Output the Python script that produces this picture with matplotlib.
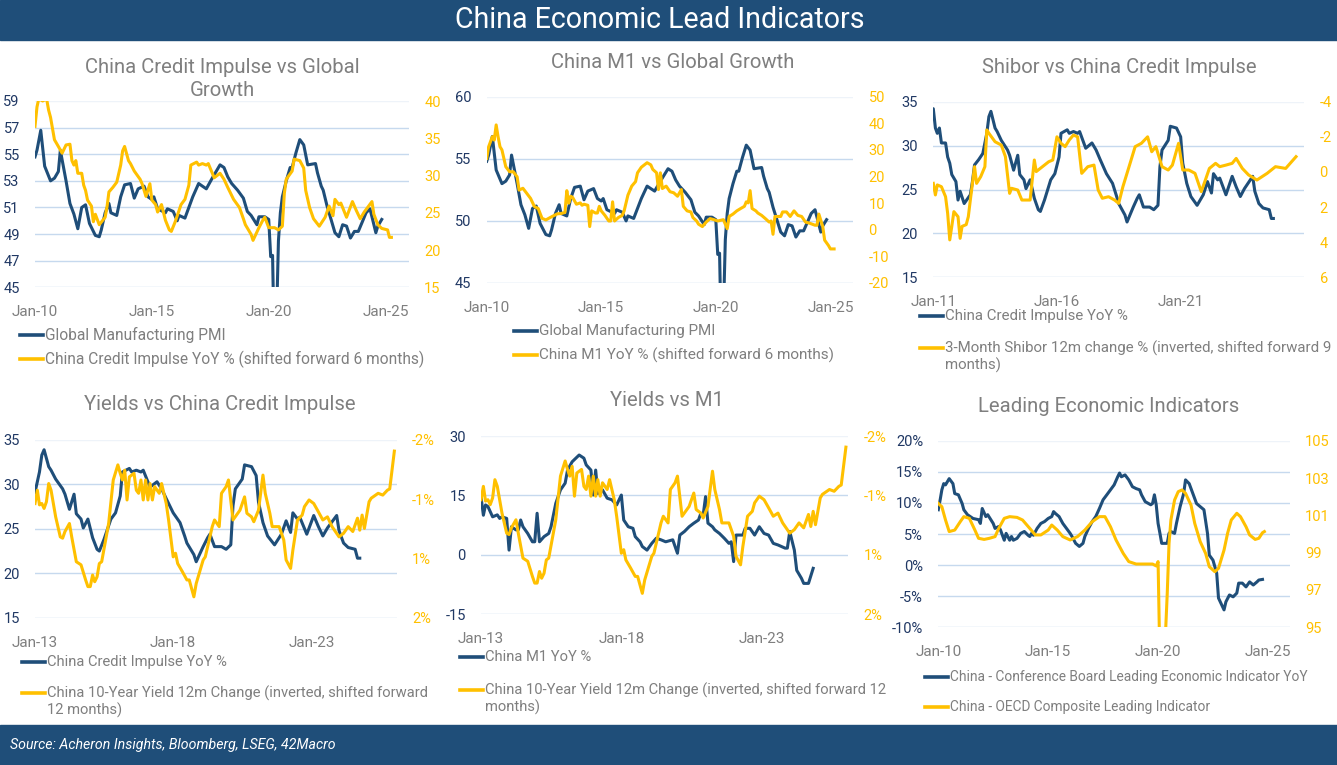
import matplotlib
matplotlib.use("Agg")
import matplotlib.pyplot as plt
from matplotlib.lines import Line2D
from matplotlib.patches import Rectangle
import pandas as pd

plt.rcParams['font.family'] = ['Roboto', 'DejaVu Sans']
plt.rcParams['axes.unicode_minus'] = False

W, H = 1337, 765
NAVY = "#1f4e79"
GOLD = "#ffc000"
GRID = "#c6d9ee"
GREY = "#7f7f7f"
TICKNAVY = "#203864"

# ---- data ----
# Global Manufacturing PMI
pmi_dates = ["2010-01", "2010-02", "2010-04", "2010-06", "2010-09", "2010-11", "2011-01", "2011-02",
             "2011-05", "2011-07", "2011-09", "2011-11", "2012-01", "2012-03", "2012-05", "2012-08",
             "2012-10", "2012-11", "2013-01", "2013-03", "2013-04", "2013-07", "2013-09", "2013-11",
             "2014-02", "2014-04", "2014-06", "2014-09", "2014-11", "2015-01", "2015-02", "2015-04",
             "2015-08", "2015-09", "2015-12", "2016-02", "2016-03", "2016-06", "2016-08", "2016-10",
             "2017-01", "2017-03", "2017-05", "2017-08", "2017-12", "2018-02", "2018-04", "2018-06",
             "2018-09", "2018-12", "2019-02", "2019-04", "2019-07", "2019-08", "2019-11", "2020-01",
             "2020-02", "2020-03", "2020-04", "2020-05", "2020-06", "2020-07", "2020-08", "2020-10",
             "2020-12", "2021-01", "2021-03", "2021-05", "2021-07", "2021-09", "2022-01", "2022-02",
             "2022-04", "2022-05", "2022-07", "2022-09", "2022-11", "2023-01", "2023-03", "2023-05",
             "2023-07", "2023-09", "2023-11", "2024-01", "2024-03", "2024-05", "2024-06", "2024-08",
             "2024-09", "2024-11"]
pmi_vals = [54.8, 55.3, 56.8, 54.1, 53.0, 53.2, 53.7, 55.3,
            53.0, 51.3, 50.5, 49.4, 51.0, 51.2, 49.8, 48.9,
            48.8, 49.3, 50.6, 51.3, 50.6, 50.4, 51.8, 52.7,
            52.8, 51.7, 52.4, 52.6, 51.8, 51.6, 51.8, 50.9,
            50.6, 50.9, 50.7, 50.0, 50.4, 50.2, 51.0, 51.8,
            52.8, 52.6, 52.4, 53.2, 54.2, 54.0, 53.3, 52.8,
            52.3, 51.7, 50.7, 50.4, 49.7, 50.3, 50.3, 50.1,
            47.3, 47.4, 39.6, 42.4, 48.5, 50.6, 51.8, 53.0,
            54.0, 54.0, 55.1, 56.1, 55.7, 54.2, 54.3, 53.6,
            52.6, 52.3, 51.1, 50.1, 49.1, 48.8, 49.7, 49.6,
            48.7, 49.2, 49.2, 49.9, 50.6, 50.9, 50.3, 49.1,
            49.6, 50.1]

# China Credit Impulse YoY %
ci_dates = ["2009-07", "2009-08", "2009-09", "2009-11", "2010-01", "2010-02", "2010-03", "2010-05",
            "2010-07", "2010-09", "2010-11", "2011-01", "2011-02", "2011-03", "2011-04", "2011-05",
            "2011-07", "2011-08", "2011-09", "2011-10", "2011-12", "2012-01", "2012-02", "2012-04",
            "2012-07", "2012-08", "2012-09", "2012-11", "2013-01", "2013-03", "2013-04", "2013-05",
            "2013-07", "2013-08", "2013-10", "2014-01", "2014-02", "2014-04", "2014-06", "2014-07",
            "2014-09", "2014-10", "2014-12", "2015-02", "2015-04", "2015-05", "2015-07", "2015-10",
            "2015-12", "2016-02", "2016-03", "2016-06", "2016-07", "2016-09", "2016-11", "2016-12",
            "2017-03", "2017-06", "2017-08", "2017-10", "2018-01", "2018-04", "2018-06", "2018-07",
            "2018-10", "2018-11", "2019-02", "2019-04", "2019-05", "2019-07", "2019-10", "2019-12",
            "2020-02", "2020-03", "2020-04", "2020-07", "2020-08", "2020-11", "2021-01", "2021-02",
            "2021-04", "2021-06", "2021-09", "2021-12", "2022-02", "2022-04", "2022-05", "2022-07",
            "2022-08", "2022-11", "2023-02", "2023-04", "2023-06", "2023-08", "2023-12", "2024-01",
            "2024-03", "2024-05", "2024-08", "2024-09", "2024-10"]
ci_vals = [36.6, 39.2, 40.3, 40.0, 40.3, 38.8, 37.8, 34.8,
           33.9, 33.0, 34.1, 34.2, 32.0, 31.4, 32.0, 30.3,
           30.3, 28.7, 28.0, 26.7, 25.9, 23.8, 24.8, 23.4,
           24.4, 25.9, 27.8, 28.4, 29.1, 31.4, 33.3, 33.9,
           32.0, 31.6, 30.6, 29.5, 28.9, 27.2, 28.9, 26.7,
           26.1, 25.1, 26.1, 24.0, 22.7, 22.5, 23.8, 26.1,
           26.8, 28.7, 31.4, 31.8, 31.4, 31.6, 31.4, 31.6,
           29.7, 30.3, 29.5, 28.4, 26.8, 25.7, 24.2, 23.4,
           22.1, 21.3, 23.0, 24.0, 24.4, 23.0, 23.0, 22.7,
           23.2, 27.6, 29.5, 30.6, 32.2, 32.0, 31.0, 28.0,
           25.7, 24.2, 23.2, 24.4, 25.9, 24.6, 26.8, 26.1,
           26.3, 24.4, 26.5, 25.3, 24.2, 25.1, 26.5, 24.8,
           23.4, 22.9, 22.7, 21.7, 21.7]

# China M1 YoY %
m1_dates = ["2009-07", "2009-08", "2009-10", "2009-11", "2009-12", "2010-01", "2010-02", "2010-03",
            "2010-05", "2010-07", "2010-09", "2010-11", "2010-12", "2011-02", "2011-04", "2011-06",
            "2011-08", "2011-10", "2011-12", "2012-02", "2012-05", "2012-08", "2012-10", "2012-12",
            "2013-01", "2013-02", "2013-03", "2013-04", "2013-06", "2013-08", "2013-09", "2013-10",
            "2013-12", "2014-01", "2014-02", "2014-04", "2014-05", "2014-06", "2014-07", "2014-09",
            "2014-11", "2014-12", "2015-01", "2015-02", "2015-04", "2015-06", "2015-07", "2015-09",
            "2015-11", "2016-01", "2016-02", "2016-04", "2016-07", "2016-09", "2016-10", "2016-12",
            "2017-01", "2017-02", "2017-03", "2017-05", "2017-07", "2017-09", "2017-11", "2018-01",
            "2018-02", "2018-04", "2018-06", "2018-07", "2018-09", "2018-10", "2018-12", "2019-02",
            "2019-04", "2019-06", "2019-08", "2019-11", "2020-01", "2020-02", "2020-04", "2020-06",
            "2020-08", "2020-10", "2020-11", "2020-12", "2021-01", "2021-02", "2021-04", "2021-05",
            "2021-07", "2021-09", "2021-11", "2021-12", "2022-01", "2022-02", "2022-05", "2022-06",
            "2022-08", "2022-10", "2022-12", "2023-02", "2023-04", "2023-06", "2023-08", "2023-11",
            "2023-12", "2024-01", "2024-03", "2024-04", "2024-06", "2024-07", "2024-09", "2024-11"]
m1_vals = [26.8, 31.2, 35.0, 33.7, 39.4, 35.0, 31.2, 30.0,
           23.7, 21.8, 21.8, 19.9, 14.9, 15.6, 13.7, 11.8,
           8.7, 8.0, 4.3, 3.7, 4.9, 6.0, 6.1, 6.5,
           14.7, 10.0, 12.6, 12.2, 9.6, 10.1, 9.2, 9.6,
           9.2, 1.2, 7.1, 6.3, 6.3, 8.8, 7.1, 5.4,
           3.3, 3.3, 10.5, 3.3, 4.6, 5.4, 7.1, 13.0,
           16.4, 18.1, 21.4, 23.5, 25.2, 24.4, 22.7, 21.4,
           15.1, 21.4, 15.5, 16.4, 14.3, 13.9, 12.6, 15.1,
           8.8, 7.1, 6.7, 4.6, 3.3, 2.1, 1.2, 2.9,
           4.2, 3.8, 3.3, 3.8, 0.4, 5.0, 5.9, 7.1,
           8.0, 8.8, 10.5, 10.1, 14.7, 8.0, 7.1, 6.3,
           5.4, 4.2, 2.9, 3.3, -1.7, 5.0, 5.0, 6.7,
           6.7, 5.0, 7.1, 5.4, 5.0, 2.9, 2.5, 1.7,
           1.7, 5.9, 1.2, -3.9, -5.9, -7.2, -7.2, -3.4]

# 3-Month Shibor 12m change % (inverted, already shifted forward 9 months)
shibor_dates = ["2011-01", "2011-02", "2011-03", "2011-05", "2011-07", "2011-08", "2011-09", "2011-10",
                "2011-11", "2012-01", "2012-02", "2012-03", "2012-05", "2012-06", "2012-07", "2012-09",
                "2012-10", "2012-12", "2013-02", "2013-03", "2013-04", "2013-07", "2013-10", "2013-12",
                "2014-02", "2014-03", "2014-06", "2014-08", "2014-12", "2015-02", "2015-03", "2015-06",
                "2015-09", "2015-11", "2016-01", "2016-03", "2016-05", "2016-07", "2016-09", "2016-11",
                "2017-01", "2017-04", "2017-07", "2017-09", "2017-11", "2018-02", "2018-05", "2018-07",
                "2018-09", "2018-12", "2019-03", "2019-06", "2019-09", "2019-11", "2020-01", "2020-04",
                "2020-07", "2020-09", "2020-12", "2021-02", "2021-05", "2021-08", "2021-11", "2022-01",
                "2022-03", "2022-06", "2022-08", "2022-11", "2023-02", "2023-04", "2023-07", "2023-10",
                "2024-02", "2024-07", "2024-11", "2025-04", "2025-09"]
shibor_vals = [0.65, 1.31, 0.74, 0.84, 1.41, 2.36, 3.87, 3.1,
               2.26, 2.55, 3.78, 3.1, 3.0, 2.55, 1.6, -0.3,
               0.65, 0.27, -0.3, -2.39, -2.2, -1.72, -1.53, -0.87,
               1.22, 0.93, 1.03, 1.6, 1.6, -0.68, -0.02, -0.3,
               -0.58, -0.68, -2.0, -1.63, -1.44, -1.82, -2.1, -2.0,
               0.08, -0.3, -0.39, 1.03, 1.5, 1.41, 1.6, 1.79,
               0.84, -0.3, -1.44, -1.63, -2.0, -1.15, -1.44, -0.3,
               -0.11, -0.39, -1.63, -0.11, -0.11, 0.08, 1.12, 0.46,
               -0.2, -0.49, -0.3, -0.39, -0.49, -0.77, -0.2, 0.17,
               0.46, 0.08, -0.3, -0.2, -0.87]

# China 10-Year Yield 12m change % (inverted, already shifted forward 12 months)
yld_dates = ["2013-01", "2013-02", "2013-03", "2013-04", "2013-05", "2013-06", "2013-07", "2013-08",
             "2013-10", "2013-12", "2014-01", "2014-02", "2014-04", "2014-05", "2014-07", "2014-09",
             "2014-11", "2014-12", "2015-01", "2015-02", "2015-03", "2015-04", "2015-05", "2015-06",
             "2015-09", "2015-11", "2016-01", "2016-02", "2016-03", "2016-04", "2016-05", "2016-06",
             "2016-08", "2016-09", "2016-10", "2016-11", "2016-12", "2017-01", "2017-02", "2017-03",
             "2017-04", "2017-05", "2017-07", "2017-08", "2017-10", "2017-11", "2018-01", "2018-02",
             "2018-03", "2018-05", "2018-07", "2018-08", "2018-10", "2018-11", "2019-02", "2019-03",
             "2019-05", "2019-06", "2019-07", "2019-09", "2019-10", "2019-12", "2020-01", "2020-03",
             "2020-06", "2020-08", "2020-09", "2020-11", "2020-12", "2021-02", "2021-04", "2021-05",
             "2021-07", "2021-08", "2021-11", "2022-01", "2022-02", "2022-04", "2022-05", "2022-07",
             "2022-09", "2022-10", "2022-12", "2023-02", "2023-04", "2023-06", "2023-08", "2023-10",
             "2024-01", "2024-03", "2024-05", "2024-07", "2024-09", "2024-10", "2024-11", "2024-12",
             "2025-02", "2025-03", "2025-06", "2025-08", "2025-10", "2025-11", "2026-01"]
yld_vals = [-0.57, -0.87, -0.54, -0.57, -0.46, -0.61, -1.02, -0.87,
            -0.27, 0.18, 0.21, 0.06, -0.12, 0.18, 0.74, 0.81,
            1.15, 1.30, 1.30, 1.04, 1.19, 1.08, 0.78, 0.74,
            -0.12, -1.1, -1.44, -1.25, -1.1, -1.32, -0.65, -1.17,
            -1.25, -0.87, -0.8, -1.1, -0.65, -1.1, -0.65, -1.02,
            -0.65, -0.95, -0.8, -1.02, -0.57, -0.2, 0.63, 0.55,
            0.78, 0.96, 1.15, 1.15, 1.53, 1.23, 0.70, 0.63,
            0.18, -0.05, -0.2, -0.05, -0.8, -0.95, -1.1, -0.2,
            -0.42, -0.72, -0.35, -0.27, -0.16, -0.42, -1.21, -0.8,
            -0.35, -0.05, -0.05, 0.25, 0.70, 0.89, 0.48, -0.2,
            -0.31, -0.5, -0.65, -0.57, -0.39, -0.2, -0.27, -0.05,
            0.18, 0.1, -0.05, 0.06, -0.24, 0.03, -0.31, -0.01,
            -0.61, -0.69, -0.8, -0.76, -0.87, -0.9, -1.75]

# China - Conference Board Leading Economic Indicator YoY %
lei_dates = ["2010-01", "2010-02", "2010-03", "2010-04", "2010-05", "2010-07", "2010-09", "2010-10",
             "2010-12", "2011-02", "2011-03", "2011-05", "2011-08", "2011-11", "2011-12", "2012-01",
             "2012-03", "2012-04", "2012-07", "2012-08", "2012-10", "2012-11", "2013-01", "2013-02",
             "2013-04", "2013-05", "2013-06", "2013-08", "2013-10", "2013-12", "2014-02", "2014-03",
             "2014-04", "2014-05", "2014-07", "2014-09", "2014-11", "2015-01", "2015-03", "2015-04",
             "2015-05", "2015-07", "2015-09", "2015-11", "2016-01", "2016-02", "2016-04", "2016-06",
             "2016-08", "2016-09", "2016-11", "2017-01", "2017-03", "2017-05", "2017-07", "2017-09",
             "2017-11", "2018-01", "2018-03", "2018-04", "2018-05", "2018-07", "2018-09", "2018-11",
             "2019-01", "2019-03", "2019-04", "2019-06", "2019-09", "2019-10", "2019-11", "2019-12",
             "2020-01", "2020-02", "2020-03", "2020-06", "2020-07", "2020-08", "2020-10", "2020-11",
             "2021-01", "2021-03", "2021-04", "2021-06", "2021-08", "2021-10", "2021-12", "2022-02",
             "2022-04", "2022-05", "2022-07", "2022-09", "2022-10", "2023-01", "2023-02", "2023-04",
             "2023-06", "2023-08", "2023-09", "2023-11", "2024-01", "2024-03", "2024-05", "2024-07",
             "2024-08", "2024-10"]
lei_vals = [8.9, 10.5, 12.1, 13.1, 12.9, 13.9, 13.1, 11.5,
            11.3, 9.9, 8.9, 8.1, 7.5, 7.3, 6.7, 9.1,
            7.8, 8.1, 6.7, 5.9, 6.2, 5.6, 4.0, 5.1,
            4.0, 4.6, 4.0, 4.3, 5.1, 5.4, 4.8, 4.6,
            5.1, 4.8, 5.9, 6.7, 7.0, 7.5, 7.8, 8.6,
            8.3, 7.8, 6.7, 5.9, 5.1, 4.6, 3.5, 3.0,
            3.5, 4.6, 5.9, 7.0, 7.8, 9.1, 10.5, 11.3,
            12.1, 12.9, 14.2, 14.8, 14.2, 14.5, 13.7, 12.6,
            12.3, 12.1, 11.3, 10.2, 9.7, 9.9, 11.3, 9.7,
            6.7, 5.1, 3.5, 3.5, 5.1, 5.4, 5.1, 6.7,
            9.4, 11.5, 13.7, 13.1, 11.5, 9.9, 9.4, 8.9,
            5.1, 1.6, 0.8, -1.3, -5.3, -7.2, -5.9, -4.8,
            -5.1, -4.5, -2.9, -2.9, -3.5, -2.7, -3.2, -2.7,
            -2.4, -2.3]

# China - OECD Composite Leading Indicator
cli_dates = ["2010-01", "2010-03", "2010-05", "2010-07", "2010-10", "2011-01", "2011-03", "2011-06",
             "2011-09", "2011-11", "2012-02", "2012-05", "2012-08", "2012-10", "2013-01", "2013-04",
             "2013-08", "2013-11", "2014-03", "2014-06", "2014-09", "2015-01", "2015-03", "2015-06",
             "2015-09", "2016-01", "2016-05", "2016-09", "2017-01", "2017-05", "2017-08", "2017-11",
             "2018-02", "2018-06", "2018-09", "2019-01", "2019-04", "2019-10", "2019-12", "2020-01",
             "2020-02", "2020-03", "2020-04", "2020-05", "2020-06", "2020-07", "2020-08", "2020-10",
             "2020-12", "2021-02", "2021-04", "2021-07", "2021-09", "2021-12", "2022-03", "2022-05",
             "2022-08", "2022-10", "2023-01", "2023-03", "2023-05", "2023-08", "2023-10", "2024-01",
             "2024-03", "2024-06", "2024-08", "2024-10", "2024-11"]
cli_vals = [101.64, 101.46, 100.75, 100.13, 100.21, 100.66, 100.93, 100.84,
            100.21, 99.77, 99.71, 99.77, 99.86, 100.3, 100.84, 100.93,
            100.89, 100.75, 100.3, 99.95, 99.95, 100.21, 100.48, 100.21,
            99.86, 99.68, 99.86, 100.21, 100.66, 100.93, 100.93, 100.39,
            99.68, 98.96, 98.52, 98.39, 98.39, 98.39, 98.29, 98.52,
            93.0, 92.5, 93.5, 94.5, 96.8, 99.5, 100.75, 101.82,
            102.27, 102.36, 102.18, 101.55, 100.57, 99.59, 98.96, 98.25,
            97.98, 98.16, 99.14, 100.04, 100.75, 101.11, 100.93, 100.39,
            99.95, 99.71, 99.77, 100.07, 100.13]

pmi_x = pd.to_datetime(pmi_dates)
ci_x = pd.to_datetime(ci_dates)
m1_x = pd.to_datetime(m1_dates)
shibor_x = pd.to_datetime(shibor_dates)
yld_x = pd.to_datetime(yld_dates)
lei_x = pd.to_datetime(lei_dates)
cli_x = pd.to_datetime(cli_dates)

# series shifted forward 6 months as stated in the legends
ci_x6 = ci_x + pd.DateOffset(months=6)
m1_cut = m1_x <= pd.Timestamp("2024-09-01")
m1_x6 = m1_x[m1_cut] + pd.DateOffset(months=6)
m1_vals6 = [v for v, k in zip(m1_vals, m1_cut) if k]
m1_recent = m1_x >= pd.Timestamp("2013-01-01")
m1_x13 = m1_x[m1_recent]
m1_vals13 = [v for v, k in zip(m1_vals, m1_recent) if k]

fig = plt.figure(figsize=(W / 100, H / 100), dpi=100)

# header and footer bands
fig.patches.append(Rectangle((0, 1 - 40 / H), 1, 40 / H, transform=fig.transFigure,
                             color="#1f4e79", zorder=0))
fig.patches.append(Rectangle((0, 0), 1, 40 / H, transform=fig.transFigure,
                             color="#1f4e79", zorder=0))
fig.text(660 / W, 1 - 20 / H, "China Economic Lead Indicators", color="white",
         fontsize=20.6, ha="center", va="center")
fig.text(10 / W, 1 - 745 / H, "Source: Acheron Insights, Bloomberg, LSEG, 42Macro",
         color="white", fontsize=10.2, style="italic", ha="left", va="center")


def panel(l, t, r, b, xlim, xticks, xlabels):
    ax = fig.add_axes([l / W, 1 - b / H, (r - l) / W, (b - t) / H])
    ax2 = ax.twinx()
    for a in (ax, ax2):
        a.set_frame_on(False)
    ax.set_xlim(pd.Timestamp(xlim[0]), pd.Timestamp(xlim[1]))
    ax.set_xticks([pd.Timestamp(d) for d in xticks])
    ax.set_xticklabels(xlabels)
    ax.tick_params(axis="x", length=0, pad=13, labelsize=11, labelcolor=GREY)
    ax.tick_params(axis="y", length=0, pad=11, labelsize=10.5, labelcolor=TICKNAVY)
    ax2.tick_params(axis="y", length=0, pad=11, labelsize=10.5, labelcolor=GOLD)
    ax.yaxis.grid(True, color=GRID, lw=1)
    ax.set_axisbelow(True)
    return ax, ax2


def left_axis(ax, lo, hi, ticks, labels=None):
    ax.set_ylim(lo, hi)
    ax.set_yticks(ticks)
    if labels is not None:
        ax.set_yticklabels(labels)
    ax.get_ygridlines()[-1].set_color("#eef3f9")


def right_axis(ax2, lim, ticks, labels=None):
    ax2.set_ylim(*lim)
    ax2.set_yticks(ticks)
    if labels is not None:
        ax2.set_yticklabels(labels)


def title(x, y, s):
    fig.text(x / W, 1 - y / H, s, color=GREY, fontsize=14.6, ha="center", va="center",
             linespacing=1.3)


def legend(x, y, color, lines, gap=17, size=11.0):
    fig.add_artist(Line2D([x / W, (x + 23) / W], [1 - y / H, 1 - y / H], color=color, lw=2.6))
    for i, s in enumerate(lines):
        fig.text((x + 25) / W, 1 - (y + i * gap) / H, s, color=GREY, fontsize=size,
                 ha="left", va="center")


LW = 2.2

# 1) China Credit Impulse vs Global Growth
ax, ax2 = panel(35, 101, 409, 287.3, ("2010-01-01", "2026-01-01"),
                ["2010-01-01", "2015-01-01", "2020-01-01", "2025-01-01"],
                ["Jan-10", "Jan-15", "Jan-20", "Jan-25"])
left_axis(ax, 45, 59, [45, 47, 49, 51, 53, 55, 57, 59])
right_axis(ax2, (15, 40), [15, 20, 25, 30, 35, 40])
ax.plot(pmi_x, pmi_vals, color=NAVY, lw=LW)
ax2.plot(ci_x6, ci_vals, color=GOLD, lw=LW)
title(222, 79, "China Credit Impulse vs Global\nGrowth")
legend(20, 334.7, NAVY, ["Global Manufacturing PMI"], size=11.2)
legend(20, 359.3, GOLD, ["China Credit Impulse YoY % (shifted forward 6 months)"], size=11.2)

# 2) China M1 vs Global Growth
ax, ax2 = panel(486.7, 96.7, 853.3, 283, ("2010-01-01", "2026-01-01"),
                ["2010-01-01", "2015-01-01", "2020-01-01", "2025-01-01"],
                ["Jan-10", "Jan-15", "Jan-20", "Jan-25"])
left_axis(ax, 45, 60, [45, 50, 55, 60])
right_axis(ax2, (-20, 50), [-20, -10, 0, 10, 20, 30, 40, 50])
ax.plot(pmi_x, pmi_vals, color=NAVY, lw=LW)
ax2.plot(m1_x6, m1_vals6, color=GOLD, lw=LW)
title(673, 62.7, "China M1 vs Global Growth")
legend(514, 330.7, NAVY, ["Global Manufacturing PMI"])
legend(514, 355, GOLD, ["China M1 YoY % (shifted forward 6 months)"])

# 3) Shibor vs China Credit Impulse
ax, ax2 = panel(933.3, 101.7, 1304.3, 277.3, ("2011-01-01", "2026-01-01"),
                ["2011-01-01", "2016-01-01", "2021-01-01"],
                ["Jan-11", "Jan-16", "Jan-21"])
left_axis(ax, 15, 35, [15, 20, 25, 30, 35])
right_axis(ax2, (6, -4), [-4, -2, 0, 2, 4, 6])
ax.plot(ci_x, ci_vals, color=NAVY, lw=LW)
ax2.plot(shibor_x, shibor_vals, color=GOLD, lw=LW)
title(1119, 67.3, "Shibor vs China Credit Impulse")
legend(920, 316, NAVY, ["China Credit Impulse YoY %"], size=10.8)
legend(920, 348.3, GOLD, ["3-Month Shibor 12m change % (inverted, shifted forward 9", "months)"],
       size=10.8)

# 4) Yields vs China Credit Impulse
ax, ax2 = panel(35, 440, 396.7, 617.7, ("2013-01-01", "2026-02-01"),
                ["2013-01-01", "2018-01-01", "2023-01-01"],
                ["Jan-13", "Jan-18", "Jan-23"])
left_axis(ax, 15, 35, [15, 20, 25, 30, 35])
right_axis(ax2, (2, -2), [-2, -2 / 3, 2 / 3, 2], ["-2%", "-1%", "1%", "2%"])
ax.plot(ci_x, ci_vals, color=NAVY, lw=LW)
ax2.plot(yld_x, yld_vals, color=GOLD, lw=LW)
title(220, 404, "Yields vs China Credit Impulse")
legend(22, 661.7, NAVY, ["China Credit Impulse YoY %"], size=10.6)
legend(22, 693.3, GOLD, ["China 10-Year Yield 12m Change (inverted, shifted forward", "12 months)"],
       size=10.6)

# 5) Yields vs M1
ax, ax2 = panel(481, 436, 848.3, 614.3, ("2013-01-01", "2026-02-01"),
                ["2013-01-01", "2018-01-01", "2023-01-01"],
                ["Jan-13", "Jan-18", "Jan-23"])
left_axis(ax, -15, 30, [-15, 0, 15, 30])
right_axis(ax2, (2, -2), [-2, -2 / 3, 2 / 3, 2], ["-2%", "-1%", "1%", "2%"])
ax.plot(m1_x13, m1_vals13, color=NAVY, lw=LW)
ax2.plot(yld_x, yld_vals, color=GOLD, lw=LW)
title(667, 400, "Yields vs M1")
legend(460, 657.3, NAVY, ["China M1 YoY %"], size=10.6)
legend(460, 690, GOLD, ["China 10-Year Yield 12m Change (inverted, shifted forward 12", "months)"],
       size=10.6)

# 6) Leading Economic Indicators
ax, ax2 = panel(938.3, 440.7, 1290, 627.3, ("2010-01-01", "2026-01-01"),
                ["2010-01-01", "2015-01-01", "2020-01-01", "2025-01-01"],
                ["Jan-10", "Jan-15", "Jan-20", "Jan-25"])
left_axis(ax, -10, 20, [-10, -5, 0, 5, 10, 15, 20],
          ["-10%", "-5%", "0%", "5%", "10%", "15%", "20%"])
right_axis(ax2, (95, 105), [95, 97, 99, 101, 103, 105])
ax.plot(lei_x, lei_vals, color=NAVY, lw=LW)
ax2.plot(cli_x, cli_vals, color=GOLD, lw=LW)
title(1109, 406, "Leading Economic Indicators")
legend(925, 676.7, NAVY, ["China - Conference Board Leading Economic Indicator YoY"], size=9.9)
legend(925, 706.7, GOLD, ["China - OECD Composite Leading Indicator"], size=9.9)

fig.savefig("out.png", dpi=100)
